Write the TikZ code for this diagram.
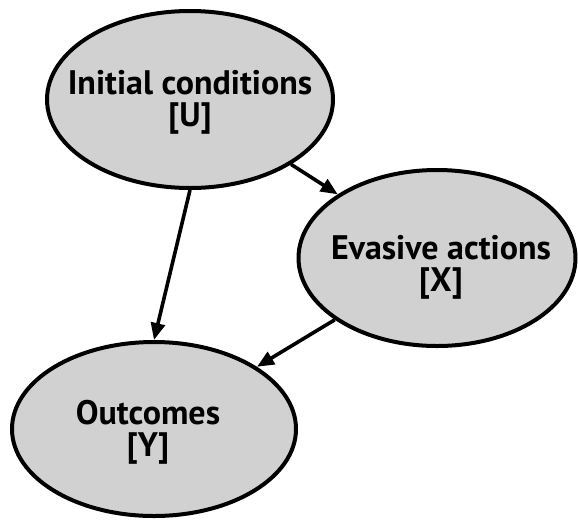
\documentclass[tikz,border=0pt]{standalone}
\usepackage{fontspec}
\setmainfont{PT Sans}
\usetikzlibrary{shapes.geometric,arrows.meta}
\definecolor{bubblegray}{RGB}{209,209,209}

\begin{document}
\begin{tikzpicture}[x=1pt, y=-1pt,
  bubble/.style={ellipse, draw=black, fill=bubblegray, line width=4pt, inner sep=0pt},
  bubbletext/.style={align=center, font=\bfseries\fontsize{34}{32}\selectfont, inner sep=0pt},
  link/.style={line width=3.6pt, -{Triangle[length=17pt, width=14pt]}}]
  \useasboundingbox (0,0) rectangle (578,520);
  % the three variables
  \node[bubble, minimum width=286pt, minimum height=177pt] (U) at (190,99.5) {};
  \node[bubble, minimum width=277pt, minimum height=176pt] (X) at (437,258) {};
  \node[bubble, minimum width=284pt, minimum height=174pt] (Y) at (154,429) {};
  \node[bubbletext] (Ulabel) at (190,102) {Initial conditions\\{[U]}};
  \node[bubbletext] (Xlabel) at (441,267.5) {Evasive actions\\{[X]}};
  \node[bubbletext] (Ylabel) at (148,432) {Outcomes\\{[Y]}};
  % causal links
  \draw[link] (U.south) -- (Y.north);
  \draw[link] (U) -- (X);
  \draw[link] (X) -- (Y);
\end{tikzpicture}
\end{document}
